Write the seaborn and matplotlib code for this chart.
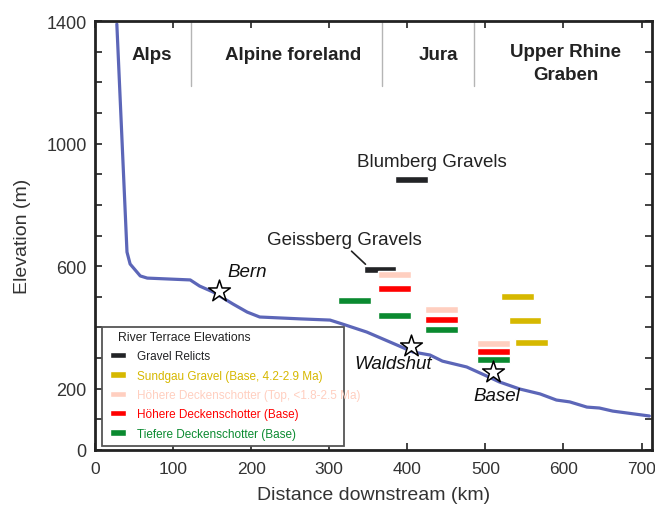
import matplotlib
matplotlib.use("Agg")
import matplotlib.pyplot as plt
from matplotlib.patches import Patch, Rectangle
from matplotlib.ticker import MultipleLocator, FixedLocator
import seaborn as sns

# river long profile (distance km, elevation m)
river_km = [28, 41, 45, 58, 67, 122, 134, 151, 177, 195, 211, 262, 301, 317, 348,
            369, 390, 407, 429, 445, 476, 502, 518, 544, 570, 591, 608, 630, 646, 663, 710]
river_elev = [1390, 646, 607, 568, 561, 555, 535, 516, 476, 450, 434, 428, 424, 411, 385,
              362, 339, 320, 310, 290, 271, 241, 222, 199, 183, 163, 157, 140, 137, 127, 111]

# terrace bars: start km, end km, elevation m
relict_start = [344, 384]
relict_end = [386, 426]
relict_elev = [589, 884]

sundgau_start = [520, 530, 538]
sundgau_end = [562, 571, 580]
sundgau_elev = [502, 424, 350]

hdtop_start = [362, 423, 489]
hdtop_end = [405, 465, 531]
hdtop_elev = [573, 460, 349]

hdbase_start = [362, 423, 489]
hdbase_end = [405, 465, 531]
hdbase_elev = [528, 426, 322]

tiefere_start = [311, 362, 423, 489]
tiefere_end = [353, 405, 465, 531]
tiefere_elev = [489, 440, 392, 294]

# towns
town_names = ["Bern", "Waldshut", "Basel"]
town_km = [159, 405, 510]
town_elev = [519, 339, 254]

# physiographic regions
region_names = ["Alps", "Alpine foreland", "Jura", "Upper Rhine\nGraben"]
region_centers = [73, 254, 440, 603]
region_bounds = [123, 367, 485]

sns.set_style("ticks")
plt.rcParams['font.family'] = ['Liberation Sans', 'DejaVu Sans']

fig = plt.figure(figsize=(6.55, 5.06), dpi=100)
ax = fig.add_axes([0.145, 0.1087, 0.850, 0.8478])

sns.lineplot(x=river_km, y=river_elev, color="#5c66b8", linewidth=2.3, ax=ax, zorder=2)

series = [
    (relict_start, relict_end, relict_elev, "#222326", "Gravel Relicts"),
    (sundgau_start, sundgau_end, sundgau_elev, "#d6b800", "Sundgau Gravel (Base, 4.2-2.9 Ma)"),
    (hdtop_start, hdtop_end, hdtop_elev, "#ffcfc0", "Höhere Deckenschotter (Top, <1.8-2.5 Ma)"),
    (hdbase_start, hdbase_end, hdbase_elev, "#ff0000", "Höhere Deckenschotter (Base)"),
    (tiefere_start, tiefere_end, tiefere_elev, "#0a8a30", "Tiefere Deckenschotter (Base)"),
]
handles = []
for s, e, y, c, lab in series:
    ax.barh(y, [b - a for a, b in zip(s, e)], left=s, height=23, color=c, zorder=3)
    handles.append(Patch(facecolor=c, label=lab))

ax.scatter(town_km, town_elev, marker="*", s=270, facecolor="white",
           edgecolor="black", linewidth=1.1, zorder=5)
ax.text(170, 581, "Bern", fontsize=13.5, style="italic", va="center", ha="left", color="#111")
ax.text(382, 283, "Waldshut", fontsize=13.5, style="italic", va="center", ha="center", color="#111")
ax.text(514, 179, "Basel", fontsize=13.5, style="italic", va="center", ha="center", color="#111")

ax.text(432, 943, "Blumberg Gravels", fontsize=13.5, ha="center", va="center", color="#222")
ax.text(319, 688, "Geissberg Gravels", fontsize=13.5, ha="center", va="center", color="#222")
ax.annotate("", xy=(349, 600), xytext=(326, 655),
            arrowprops=dict(arrowstyle="-", color="#222", lw=1.2))

for b in region_bounds:
    ax.plot([b, b], [1188, 1400], color="#b5b5b5", lw=1, zorder=1)
for name, c in zip(region_names, region_centers):
    ax.text(c, 1292 if "\n" not in name else 1262, name, fontsize=13.5, fontweight="bold",
            ha="center", va="center", color="#222", linespacing=1.45)

ax.set_xlim(0, 713)
ax.set_ylim(0, 1400)
ax.xaxis.set_major_locator(MultipleLocator(100))
ax.yaxis.set_major_locator(FixedLocator([0, 200, 600, 1000, 1400]))
ax.yaxis.set_minor_locator(MultipleLocator(100))
ax.tick_params(axis="both", which="both", direction="in", top=True, right=True,
               colors="#222", labelcolor="#333")
ax.tick_params(which="both", length=5, width=1.2)
ax.tick_params(axis="x", pad=8, labelsize=12.5)
ax.tick_params(axis="y", pad=6, labelsize=13)
for sp in ax.spines.values():
    sp.set_linewidth(2)
    sp.set_color("#222")

ax.set_xlabel("Distance downstream (km)", fontsize=14, color="#333", labelpad=7)
ax.set_ylabel("Elevation (m)", fontsize=14, color="#333", labelpad=11)

# legend box (narrower than its longest label, as in the original)
ax.add_patch(Rectangle((0.0126, 0.0093), 0.4344, 0.2774, transform=ax.transAxes,
                       facecolor="white", edgecolor="#555", lw=1.3, zorder=2.2))
ax.text(0.0413, 0.2640, "River Terrace Elevations", transform=ax.transAxes,
        fontsize=8.8, va="center", ha="left", color="#222", zorder=7)
leg = ax.legend(handles=handles, loc="upper left", bbox_to_anchor=(0.0269, 0.232),
                fontsize=8.5, frameon=False, handlelength=1.36, handleheight=0.45,
                handletextpad=0.93, borderpad=0, borderaxespad=0, labelspacing=0.62)
for t, (_, _, _, c, _) in zip(leg.get_texts(), series):
    t.set_color(c)
leg.set_zorder(8)

fig.savefig("out.png", dpi=100)
